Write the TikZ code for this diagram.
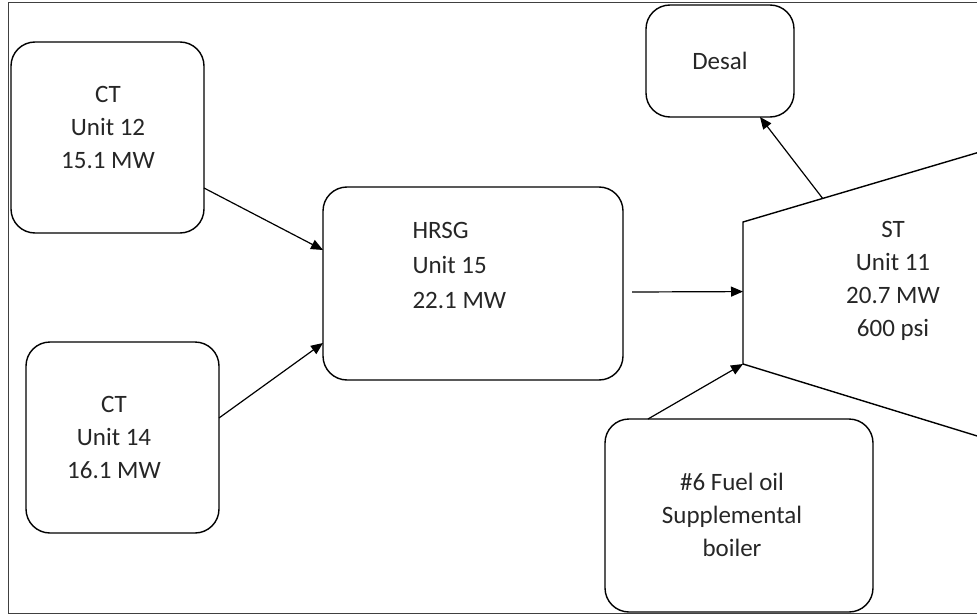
\documentclass[tikz,border=0pt]{standalone}
\usepackage{fontspec}
\setmainfont{Carlito}
\usepackage{tikz}
\usetikzlibrary{arrows.meta,calc,positioning}
\newcommand{\UnitFont}{\fontsize{25}{33}\selectfont}
\newcommand{\BoxLine}{1.4pt}
\tikzset{
 unitbox/.style={draw,line width=\BoxLine,rounded corners=24pt,outer sep=0pt,align=center,font=\UnitFont,text=black!85},
 unittext/.style={font=\UnitFont,text=black!85},
 flow/.style={line width=1.2pt,-{Triangle[length=12pt,width=10pt]}},
}

\begin{document}
\begin{tikzpicture}[x=1pt,y=-1pt]
\useasboundingbox (0,0) rectangle (977,615);
\clip (0,0) rectangle (977,615);
\draw[line width=1pt,black!75] (8,3) rectangle (990,613);
% boxes
\node[unitbox,minimum width=193pt,minimum height=191pt] (ct12) at (107.5,137.5) {};
\node[unittext,align=center] (ct12txt) at (108,127) {CT\\Unit 12\\15.1 MW};
\node[unitbox,minimum width=193pt,minimum height=191pt] (ct14) at (122.5,437.5) {};
\node[unittext,align=center] (ct14txt) at (114,437) {CT\\Unit 14\\16.1 MW};
\node[unitbox,minimum width=300pt,minimum height=193pt] (hrsg) at (473,283.5) {};
\node[unittext,align=left,anchor=west,font=\fontsize{25}{35}\selectfont] (hrsgtxt) at (409,265) {HRSG\\Unit 15\\22.1 MW};
\node[unitbox,minimum width=148pt,minimum height=112pt] (desal) at (720,61) {Desal};
\node[unitbox,minimum width=268pt,minimum height=193pt] (fuel) at (739,515.5) {};
\node[unittext,align=center] (fueltxt) at (732,515) {\#6 Fuel oil\\Supplemental\\boiler};
% steam turbine outline
\coordinate (stTop) at (743,222);
\coordinate (stBot) at (743,364);
\coordinate (stTopEnd) at (1000,146);
\coordinate (stBotEnd) at (1000,443);
\draw[line width=\BoxLine] (stTopEnd) -- (stTop) -- (stBot) -- (stBotEnd);
\node[unittext,align=center] (st) at (893,281) {ST\\Unit 11\\20.7 MW\\600 psi};
\coordinate (stIn) at ($(stTop)!0.49!(stBot)$);
\coordinate (stOut) at ($(stTop)!0.31!(stTopEnd)$);
% flows
\draw[flow] ([yshift=-50.5pt]ct12.east) -- ([yshift=33.5pt]hrsg.west);
\draw[flow] ([yshift=19.5pt]ct14.east) -- ([yshift=-59.5pt]hrsg.west);
\draw[flow] ([xshift=9pt,yshift=-8.5pt]hrsg.east) -- (stIn);
\draw[flow] ([xshift=-91pt]fuel.north) -- (stBot);
\draw[flow] (stOut) -- ([xshift=40pt]desal.south);
\end{tikzpicture}
\end{document}
